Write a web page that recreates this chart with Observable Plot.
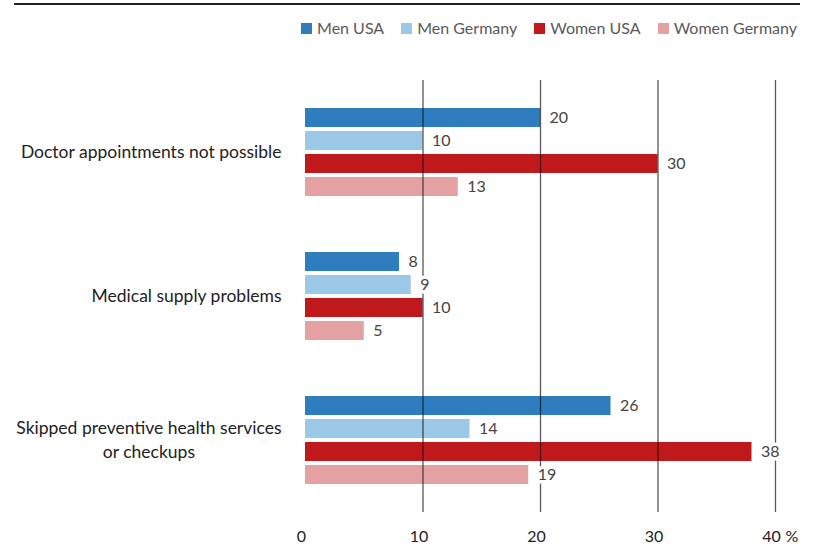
<!DOCTYPE html>
<html><head><meta charset="utf-8">
<script src="https://cdn.jsdelivr.net/npm/d3@7"></script>
<script src="https://cdn.jsdelivr.net/npm/@observablehq/plot@0.6"></script>
<style>
body{margin:0;background:#fff;font-family:Lato,sans-serif;}
#wrap{position:relative;width:816px;height:547px;overflow:hidden;background:#fff;}
#rule{position:absolute;left:14px;top:3px;width:786px;height:2px;background:#222;}
#legend{position:absolute;right:19px;top:18px;display:flex;font-size:16px;color:#5a5a5a;line-height:20px;}
.item{display:flex;align-items:center;margin-left:17px;}
.sw{width:11px;height:11px;margin-right:5px;}
#chart{position:absolute;left:0;top:50px;}
</style></head><body>
<div id="wrap"><div id="rule"></div><div id="legend"></div><div id="chart"></div></div>
<script>
const categories = ["Doctor appointments not possible", "Medical supply problems", "Skipped preventive health services\nor checkups"];
const series = ["Men USA", "Men Germany", "Women USA", "Women Germany"];
const menUSA = [20, 8, 26];
const menGermany = [10, 9, 14];
const womenUSA = [30, 10, 38];
const womenGermany = [13, 5, 19];
const colors = ["#2e7ebf", "#9ac8e6", "#c0191b", "#e3a1a2"];
const xTicks = [0, 10, 20, 30, 40];
const gridTicks = [10, 20, 30, 40];

const values = [menUSA, menGermany, womenUSA, womenGermany];
const rows = [];
categories.forEach((c, i) => series.forEach((s, j) => rows.push({category: c, series: s, value: values[j][i]})));

// legend
const legend = document.getElementById("legend");
series.forEach((s, j) => {
  const it = document.createElement("div"); it.className = "item";
  const sw = document.createElement("span"); sw.className = "sw"; sw.style.background = colors[j];
  const tx = document.createElement("span"); tx.textContent = s;
  it.append(sw, tx); legend.append(it);
});

const chart = Plot.plot({
  width: 816, height: 497,
  marginLeft: 305, marginRight: 41, marginTop: 30, marginBottom: 35,
  style: {fontFamily: "Lato, sans-serif", fontSize: "16px", background: "white", overflow: "visible"},
  x: {domain: [0, 40]},
  y: {domain: series, axis: null, paddingInner: 0.177, paddingOuter: 1.127},
  fy: {domain: categories, paddingInner: 0, paddingOuter: 0},
  color: {domain: series, range: colors},
  marks: [
    Plot.barX(rows, {x: "value", y: "series", fy: "category", fill: "series"}),
    Plot.ruleX(gridTicks, {x: d => d, stroke: "#111", strokeOpacity: 0.7, strokeWidth: 1.3}),
    Plot.text(rows, {x: "value", y: "series", fy: "category", text: d => String(d.value), textAnchor: "start", dx: 9, fill: "#444", stroke: "white", strokeWidth: 7, fontSize: 16}),
    Plot.axisFy({anchor: "left", tickSize: 0, tickPadding: 24, dy: -2, label: null, fontSize: 17.5, lineHeight: 1.35, fill: "#222"}),
    Plot.axisX({ticks: xTicks, tickSize: 0, tickPadding: 18, dx: -4, label: null, fontSize: 16, fill: "#222", tickFormat: d => String(d)}),
    Plot.axisX({ticks: [40], tickSize: 0, tickPadding: 18, dx: 10, textAnchor: "start", label: null, fontSize: 16, fill: "#222", tickFormat: () => "%"})
  ]
});
document.getElementById("chart").append(chart);

function centerMultiline() {
  chart.querySelectorAll("text").forEach(t => {
    const spans = t.querySelectorAll("tspan");
    if (spans.length > 1) {
      const w = Math.max(...[...spans].map(s => s.getComputedTextLength()));
      t.setAttribute("text-anchor", "middle");
      spans.forEach(s => s.setAttribute("x", -w / 2));
    }
  });
}
centerMultiline();
</script>
</body></html>
